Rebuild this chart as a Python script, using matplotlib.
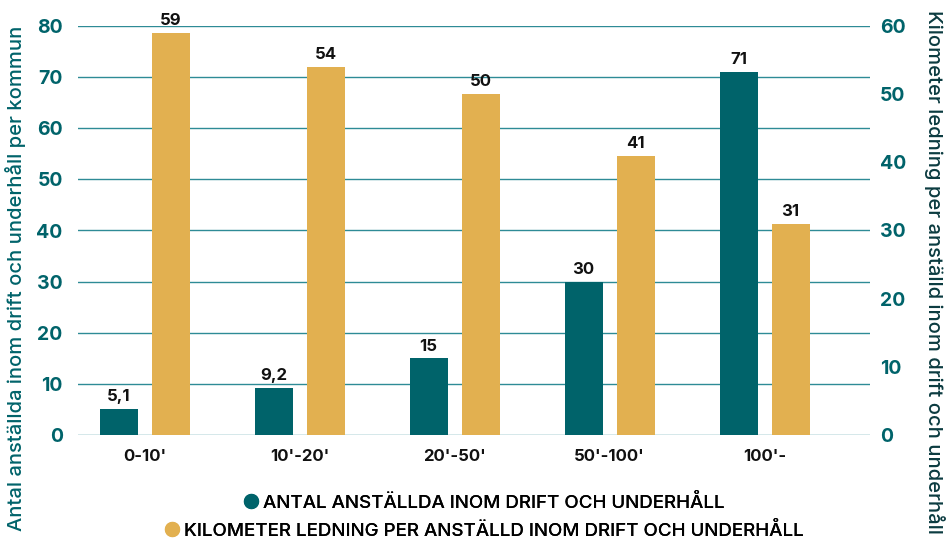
import numpy as np
import matplotlib.pyplot as plt
from matplotlib.lines import Line2D

plt.rcParams['font.family'] = ['Inter', 'DejaVu Sans']

categories = ["0-10'", "10'-20'", "20'-50'", "50'-100'", "100'-"]
anstallda = [5.1, 9.2, 15, 30, 71]
km_per_anstalld = [59, 54, 50, 41, 31]
anstallda_labels = ["5,1", "9,2", "15", "30", "71"]
km_labels = ["59", "54", "50", "41", "31"]
series_names = ['ANTAL ANSTÄLLDA INOM DRIFT OCH UNDERHÅLL',
                'KILOMETER LEDNING PER ANSTÄLLD INOM DRIFT OCH UNDERHÅLL']

teal = '#00636a'
gold = '#e2b050'
grid_col = '#2e8b96'

fig = plt.figure(figsize=(9.46, 5.43), dpi=100)
ax = fig.add_axes([78/946, 108/543, 792/946, 409/543])
ax2 = ax.twinx()

x = np.arange(len(categories))
w = 0.245
off = 0.168

ax.bar(x - off, anstallda, w, color=teal, zorder=3)
ax2.bar(x + off, km_per_anstalld, w, color=gold, zorder=3)

for xi, v, t in zip(x, anstallda, anstallda_labels):
    ax.text(xi - off, v + 0.9, t, ha='center', va='bottom', fontsize=12,
            fontweight='bold', color='#111111')
for xi, v, t in zip(x, km_per_anstalld, km_labels):
    ax2.text(xi + off, v + 0.7, t, ha='center', va='bottom', fontsize=12,
             fontweight='bold', color='#111111')

ax.set_xlim(-0.43, 4.68)
ax.set_ylim(0, 80)
ax2.set_ylim(0, 60)
ax.set_yticks(range(0, 81, 10))
ax2.set_yticks(range(0, 61, 10))

# grid lines drawn from the left axis scale
for yv in range(0, 81, 10):
    ax.axhline(yv, color=grid_col, lw=1.0, zorder=1)

for a in (ax, ax2):
    for s in a.spines.values():
        s.set_visible(False)
    a.tick_params(axis='y', length=0, labelsize=14, labelcolor=teal)
ax.tick_params(axis='y', pad=11)
ax2.tick_params(axis='y', pad=7)
for lab in ax.get_yticklabels() + ax2.get_yticklabels():
    lab.set_fontweight('bold')

ax.set_xticks(x)
ax.set_xticklabels(categories, fontsize=12, fontweight='bold', color='#111111')
ax.tick_params(axis='x', length=0, pad=10)

fig.text(16/946, 1 - 278/543, 'Antal anställda inom drift och underhåll per kommun',
         rotation=90, ha='center', va='center', fontsize=14.5, color=teal,
         fontweight='medium')
fig.text(934/946, 1 - 10/543, 'Kilometer ledning per anställd inom drift och underhåll',
         rotation=-90, ha='center', va='top', fontsize=14.5, color='#0b3b40',
         fontweight='medium')

# one centred legend row per series
for name, col, ypos in zip(series_names, [teal, gold], [503, 531]):
    h = Line2D([], [], marker='o', ls='', color=col, markersize=10)
    leg = fig.legend([h], [name], loc='center',
                     bbox_to_anchor=(483/946, 1 - ypos/543), frameon=False,
                     handletextpad=0.15, handlelength=1.0, borderpad=0,
                     prop={'size': 13.5, 'weight': 'medium'})
    fig.add_artist(leg)

fig.savefig('out.png', dpi=100)
